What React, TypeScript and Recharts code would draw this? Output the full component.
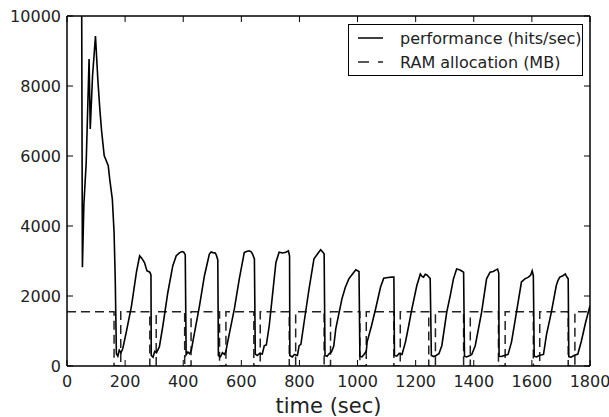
import { LineChart, Line, XAxis, YAxis } from 'recharts';

const xTicks = [0, 200, 400, 600, 800, 1000, 1200, 1400, 1600, 1800];
const yTicks = [0, 2000, 4000, 6000, 8000, 10000];

// performance (hits/sec)
const perfTime = [
  50, 53, 58, 66, 76, 80, 88, 98, 106, 113, 119, 128, 142, 147, 156, 162, 166, 170,
  175, 180, 186, 192, 204, 222, 239, 250, 259, 267, 275, 285, 289, 290,
  296, 302, 308, 318, 330, 347, 364, 376, 388, 396, 402, 407, 410,
  416, 422, 428, 433, 456, 473, 490, 496, 502, 510, 514, 519, 521,
  528, 535, 542, 547, 553, 576, 593, 610, 618, 627, 634, 639, 645, 648,
  655, 663, 672, 679, 686, 696, 707, 719, 730, 742, 753, 762, 766, 767,
  775, 783, 793, 799, 805, 816, 833, 850, 862, 873, 880, 885, 888,
  895, 902, 910, 918, 925, 946, 958, 970, 982, 994, 1005, 1008,
  1015, 1022, 1030, 1033, 1048, 1062, 1079, 1090, 1105, 1118, 1125, 1127,
  1135, 1143, 1153, 1165, 1176, 1187, 1204, 1216, 1222, 1227, 1233, 1239, 1250, 1254,
  1262, 1270, 1280, 1290, 1307, 1319, 1330, 1341, 1353, 1365, 1368,
  1375, 1385, 1393, 1405, 1427, 1444, 1456, 1467, 1475, 1482, 1486, 1487,
  1495, 1505, 1518, 1530, 1547, 1564, 1576, 1588, 1596, 1601, 1605, 1608,
  1616, 1625, 1640, 1650, 1667, 1684, 1690, 1696, 1707, 1715, 1720, 1725, 1727,
  1735, 1745, 1758, 1770, 1785, 1800,
];
const perfHits = [
  12000, 2820, 4600, 5800, 8770, 6770, 8300, 9430, 8200, 7340, 6720, 6010, 5720, 5340, 4770, 3820, 2500, 350,
  280, 450, 380, 500, 970, 1720, 2680, 3150, 3060, 2950, 2720, 2680, 2600, 300,
  250, 420, 380, 550, 1150, 2100, 2860, 3150, 3240, 3270, 3250, 3180, 320,
  400, 350, 450, 690, 1720, 2580, 3200, 3260, 3240, 3230, 3170, 3030, 300,
  260, 380, 330, 420, 690, 1630, 2490, 3240, 3270, 3290, 3260, 3190, 3060, 340,
  300, 360, 340, 580, 600, 1150, 2010, 2960, 3250, 3230, 3250, 3290, 3140, 300,
  260, 330, 300, 580, 620, 1250, 2200, 3060, 3200, 3320, 3260, 3200, 300,
  280, 350, 400, 560, 1060, 1910, 2250, 2490, 2620, 2750, 2700, 280,
  260, 330, 420, 690, 1150, 1630, 2250, 2510, 2530, 2540, 2540, 300,
  280, 360, 330, 690, 1150, 1630, 2300, 2630, 2560, 2540, 2620, 2600, 2500, 300,
  270, 300, 350, 580, 1540, 2010, 2490, 2770, 2740, 2680, 280,
  260, 290, 330, 580, 1540, 2490, 2680, 2700, 2740, 2770, 2650, 280,
  270, 300, 330, 690, 1540, 2400, 2490, 2540, 2600, 2720, 2580, 280,
  260, 300, 330, 880, 1540, 2300, 2450, 2540, 2580, 2630, 2550, 2490, 270,
  250, 300, 340, 700, 1250, 1720,
];

// RAM allocation (MB)
const ramTime = [
  0, 162, 162, 185, 185, 285, 285, 307, 307, 405, 405, 427, 427, 525, 525, 547, 547,
  643, 643, 665, 665, 765, 765, 787, 787, 885, 885, 907, 907, 1008, 1008, 1030, 1030,
  1125, 1125, 1147, 1147, 1245, 1245, 1268, 1268, 1365, 1365, 1388, 1388,
  1485, 1485, 1508, 1508, 1605, 1605, 1627, 1627, 1725, 1725, 1748, 1748, 1800,
];
const ramMB = [
  1550, 1550, 0, 0, 1550, 1550, 0, 0, 1550, 1550, 0, 0, 1550, 1550, 0, 0, 1550,
  1550, 0, 0, 1550, 1550, 0, 0, 1550, 1550, 0, 0, 1550, 1550, 0, 0, 1550,
  1550, 0, 0, 1550, 1550, 0, 0, 1550, 1550, 0, 0, 1550,
  1550, 0, 0, 1550, 1550, 0, 0, 1550, 1550, 0, 0, 1550, 1550,
];

const perfData = perfTime.map((t, i) => ({ t, v: perfHits[i] }));
const ramData = ramTime.map((t, i) => ({ t, v: ramMB[i] }));

const font = '"DejaVu Sans", sans-serif';
const textColor = '#222';
const tickLen = 6;
const axisLine = { stroke: '#000', strokeWidth: 1.5 };

function BottomTick({ x, y, payload }: any) {
  return (
    <g>
      <line x1={x} x2={x} y1={y} y2={y - tickLen} stroke="#000" />
      <text x={x} y={y + 21} textAnchor="middle" fontSize={16} fill={textColor} fontFamily={font}>
        {payload.value}
      </text>
    </g>
  );
}

function TopTick({ x, y }: any) {
  return <line x1={x} x2={x} y1={y} y2={y + tickLen} stroke="#000" />;
}

function LeftTick({ x, y, payload }: any) {
  return (
    <g>
      <line x1={x} x2={x + tickLen} y1={y} y2={y} stroke="#000" />
      <text x={x - 6} y={y + 6} textAnchor="end" fontSize={16} fill={textColor} fontFamily={font}>
        {payload.value}
      </text>
    </g>
  );
}

function RightTick({ x, y }: any) {
  return <line x1={x} x2={x - tickLen} y1={y} y2={y} stroke="#000" />;
}

function LegendBox() {
  const row = { display: 'flex', alignItems: 'center', height: 24, whiteSpace: 'nowrap' as const };
  return (
    <div style={{
      position: 'absolute', left: 348, top: 24, width: 235, height: 52,
      border: '1.5px solid #000', background: '#fff', boxSizing: 'border-box',
      fontFamily: font, fontSize: 16, color: textColor, padding: '1px 0 0 9px',
    }}>
      <div style={row}>
        <svg width={42} height={10} style={{ flexShrink: 0 }}><line x1={0} x2={25} y1={5} y2={5} stroke="#000" strokeWidth={1.5} /></svg>
        <span>performance (hits/sec)</span>
      </div>
      <div style={row}>
        <svg width={42} height={10} style={{ flexShrink: 0 }}><line x1={0} x2={25} y1={5} y2={5} stroke="#222" strokeWidth={1.5} strokeDasharray="11 9" /></svg>
        <span>RAM allocation (MB)</span>
      </div>
    </div>
  );
}

export default function App() {
  return (
    <div style={{ position: 'fixed', left: 0, top: 0, width: 609, height: 417, background: '#fff' }}>
      <LineChart width={609} height={417} margin={{ top: 15, right: 18, bottom: 21, left: 7 }}>
        <XAxis
          xAxisId="bottom" type="number" dataKey="t" domain={[0, 1800]} ticks={xTicks}
          allowDataOverflow interval={0} height={30} tickSize={0} tickMargin={0}
          tickLine={false} axisLine={axisLine} tick={<BottomTick />}
          label={{ value: 'time (sec)', position: 'bottom', offset: 2, fontSize: 21, fill: textColor, fontFamily: font }}
        />
        <XAxis
          xAxisId="top" orientation="top" type="number" dataKey="t" domain={[0, 1800]} ticks={xTicks}
          allowDataOverflow interval={0} height={1} tickSize={0} tickMargin={0}
          tickLine={false} axisLine={axisLine} tick={<TopTick />}
        />
        <YAxis
          yAxisId="left" type="number" domain={[0, 10000]} ticks={yTicks} allowDataOverflow
          interval={0} width={60} tickSize={0} tickMargin={0}
          tickLine={false} axisLine={axisLine} tick={<LeftTick />}
        />
        <YAxis
          yAxisId="right" orientation="right" type="number" domain={[0, 10000]} ticks={yTicks}
          allowDataOverflow interval={0} width={1} tickSize={0} tickMargin={0}
          tickLine={false} axisLine={axisLine} tick={<RightTick />}
        />
        <Line
          xAxisId="bottom" yAxisId="left" data={ramData} dataKey="v" type="linear"
          stroke="#222" strokeWidth={1.5} strokeDasharray="9 5" dot={false} isAnimationActive={false}
        />
        <Line
          xAxisId="bottom" yAxisId="left" data={perfData} dataKey="v" type="linear"
          stroke="#000" strokeWidth={1.6} dot={false} isAnimationActive={false}
        />
      </LineChart>
      <LegendBox />
    </div>
  );
}
